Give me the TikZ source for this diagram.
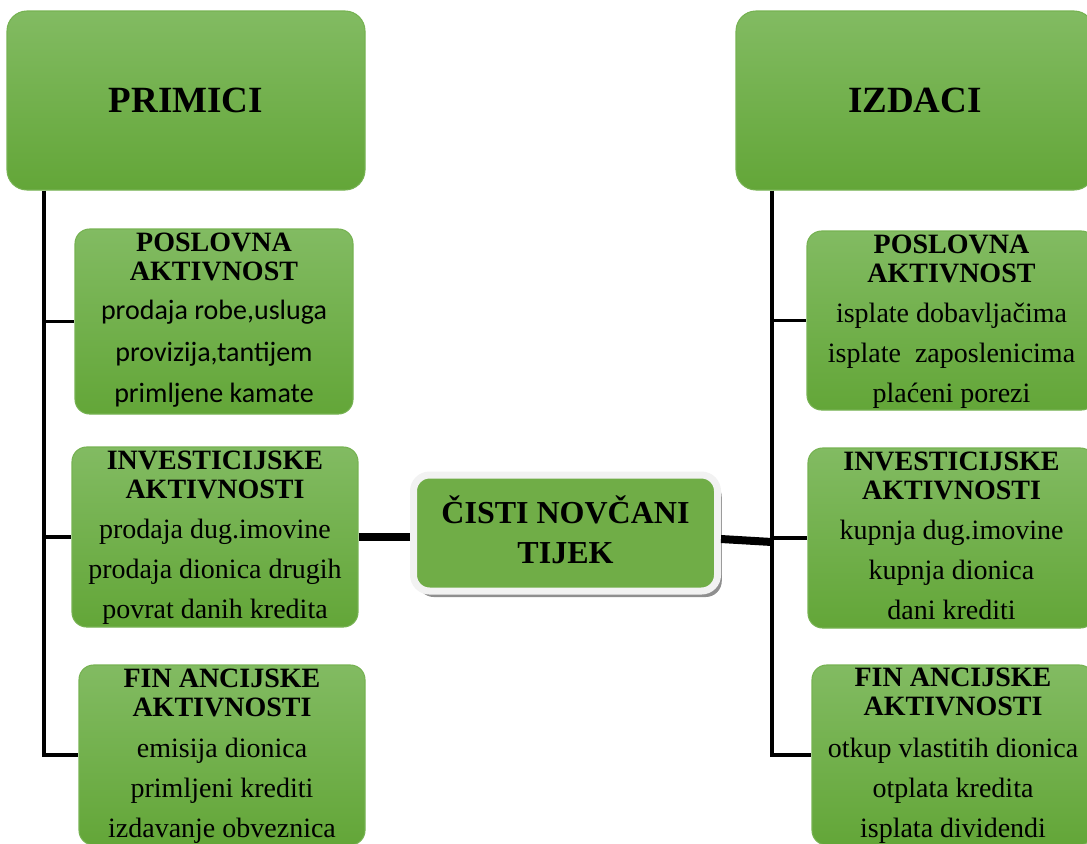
\documentclass[tikz,border=0pt]{standalone}
\usepackage{fontspec}
\setmainfont{Liberation Serif}
\newfontfamily\calfont{Carlito}
\usetikzlibrary{calc,shadows}
\definecolor{gtop}{RGB}{130,187,98}
\definecolor{gbot}{RGB}{99,166,56}
\definecolor{gedge}{RGB}{118,178,82}
\definecolor{cgreen}{RGB}{112,173,71}
\definecolor{cedge}{RGB}{242,242,242}
\newcommand\stack[2]{\vtop{\baselineskip=#1\lineskiplimit=-100pt\lineskip=0pt\halign{\hfil##\hfil\cr#2\crcr}}}
\newcommand\hfont{\fontsize{21}{21.75}\selectfont\bfseries}
\newcommand\bfont{\fontsize{21}{30}\selectfont}
\tikzset{
  gbox/.style 2 args={rectangle, top color=gtop, bottom color=gbot, draw=gedge, line width=0.8pt,
    inner sep=0pt, minimum width=#1*0.75pt, minimum height=#2*0.75pt},
  bigbox/.style 2 args={gbox={#1}{#2}, rounded corners=15pt},
  smallbox/.style 2 args={gbox={#1}{#2}, rounded corners=11pt},
  txt/.style={anchor=base, inner sep=0pt},
  thin/.style={line width=2.6pt, black},
  thick/.style={line width=6pt, black},
  cbox/.style={rectangle, rounded corners=12pt, fill=cgreen, draw=cedge, line width=5.25pt,
    minimum width=304*0.75pt, minimum height=116*0.75pt,
    drop shadow={shadow xshift=3.2pt, shadow yshift=-4.5pt, fill=black!55, opacity=0.8}}
}
\begin{document}
\begin{tikzpicture}[x=0.75pt,y=-0.75pt]
\useasboundingbox (0,0) rectangle (1087,843);
\clip (0,0) rectangle (1087,843);

% top boxes
\node[bigbox={358}{179}] (prim) at (186,100.5) {};
\node[txt] (primt) at (186,112) {\fontsize{27.75}{30}\selectfont\bfseries PRIMICI};
\node[bigbox={358}{179}] (izd) at (915,100.5) {};
\node[txt] (izdt) at (915,112) {\fontsize{27.75}{30}\selectfont\bfseries IZDACI};

% left boxes
\node[smallbox={278}{185}] (posL) at (214,321.5) {};
\node[txt] (posLh) at ($(posL.north)+(0,23.5)$) {\hfont\stack{21.75pt}{POSLOVNA\cr AKTIVNOST}};
\node[txt] (posLb) at ($(posL.north)+(0,91.5)$) {\calfont\bfont\stack{31pt}{prodaja robe,usluga\cr provizija,tantijem\cr primljene kamate}};

\node[smallbox={286}{180}] (invL) at (215,537) {};
\node[txt] (invLh) at ($(invL.north)+(0,23.5)$) {\hfont\stack{21.75pt}{INVESTICIJSKE\cr AKTIVNOSTI}};
\node[txt] (invLb) at ($(invL.north)+(0,92.5)$) {\bfont\stack{30pt}{prodaja dug.imovine\cr prodaja dionica drugih\cr povrat danih kredita}};

\node[smallbox={286}{180}] (finL) at (222,755) {};
\node[txt] (finLh) at ($(finL.north)+(0,23)$) {\hfont\stack{21.75pt}{FIN ANCIJSKE\cr AKTIVNOSTI}};
\node[txt] (finLb) at ($(finL.north)+(0,93)$) {\bfont\stack{30pt}{emisija dionica\cr primljeni krediti\cr izdavanje obveznica}};

% right boxes
\node[smallbox={289}{179}] (posR) at (951.5,320.5) {};
\node[txt] (posRh) at ($(posR.north)+(0,23)$) {\hfont\stack{21.75pt}{POSLOVNA\cr AKTIVNOST}};
\node[txt] (posRb) at ($(posR.north)+(0,92)$) {\bfont\stack{30pt}{isplate dobavljačima\cr isplate\ \ zaposlenicima\cr plaćeni porezi}};

\node[smallbox={287}{180}] (invR) at (951.5,538) {};
\node[txt] (invRh) at ($(invR.north)+(0,23)$) {\hfont\stack{21.75pt}{INVESTICIJSKE\cr AKTIVNOSTI}};
\node[txt] (invRb) at ($(invR.north)+(0,92)$) {\bfont\stack{30pt}{kupnja dug.imovine\cr kupnja dionica\cr dani krediti}};

\node[smallbox={282}{180}] (finR) at (953,755) {};
\node[txt] (finRh) at ($(finR.north)+(0,22)$) {\hfont\stack{21.75pt}{FIN ANCIJSKE\cr AKTIVNOSTI}};
\node[txt] (finRb) at ($(finR.north)+(0,93)$) {\bfont\stack{30pt}{otkup vlastitih dionica\cr otplata kredita\cr isplata dividendi}};

% centre box
\node[cbox] (cnt) at (565.5,533) {};
\node[txt] (cntt) at (565.5,523) {\fontsize{24}{30}\selectfont\bfseries\stack{30pt}{ČISTI NOVČANI\cr TIJEK}};

% tree lines
\coordinate (lv) at (44,0);
\coordinate (rv) at (772,0);
\draw[thin] (prim.south -| lv) -- (lv |- finL.west) -- (finL.west);
\draw[thin] (lv |- posL.west) -- (posL.west);
\draw[thin] (lv |- invL.west) -- (invL.west);
\draw[thin] (izd.south -| rv) -- (rv |- finR.west) -- (finR.west);
\draw[thin] (rv |- posR.west) -- (posR.west);
\draw[thin] (rv |- invR.west) -- (invR.west);

% centre connectors
\draw[thick] (invL.east) -- (invL.east -| cnt.west);
\coordinate (rj) at (772,542);
\draw[thick] ($(cnt.east)+(0,6)$) -- (rj);
\end{tikzpicture}
\end{document}
